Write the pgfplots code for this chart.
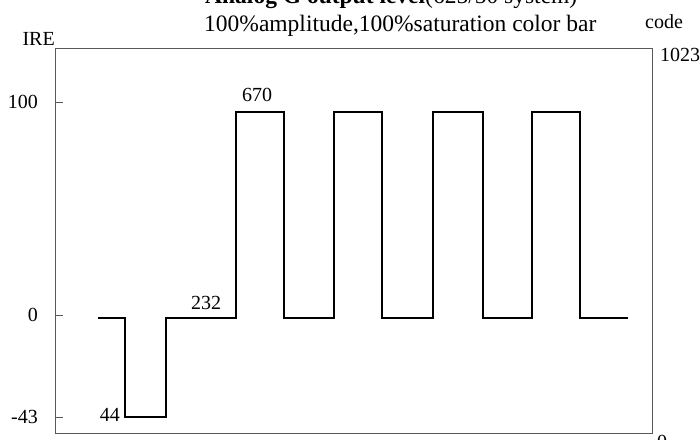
\documentclass[border=0pt]{standalone}
\usepackage{pgfplots}
\pgfplotsset{compat=1.18}
\usepackage{fontspec}
\setmainfont{Liberation Serif}
\begin{document}
\begin{tikzpicture}[x=1pt,y=1pt]
\begin{axis}[
  at={(55pt,6pt)}, anchor=south west,
  scale only axis, width=597pt, height=384.5pt,
  xmin=55, xmax=652,
  ymin=-55.4, ymax=125.1,
  axis line style={draw=black!65, line width=0.9pt},
  xtick=\empty,
  ytick={-47.9,0,100}, yticklabels={-43,0,100},
  ytick pos=left,
  tick align=inside,
  major tick length=8pt,
  tick style={draw=black!65, line width=0.9pt},
  /pgf/number format/assume math mode=true,
  yticklabel style={font=\fontsize{20}{22}\selectfont, anchor=east, inner sep=0pt, xshift=-17pt},
  clip=false,
]
\addplot[black, line width=2pt, line join=miter] coordinates {
(98,-1.5) (125,-1.5) (125,-47.9) (166,-47.9) (166,-1.5) (236,-1.5)
(236,95.4) (284,95.4) (284,-1.5) (334,-1.5) (334,95.4) (382,95.4)
(382,-1.5) (433,-1.5) (433,95.4) (483,95.4) (483,-1.5) (532,-1.5)
(532,95.4) (580,95.4) (580,-1.5) (628,-1.5)
};
\begin{scope}[every node/.style={font=\fontsize{20}{22}\selectfont, inner sep=0pt}]
\node[anchor=east] at (axis cs:120,-46.9) {44};
\node at (axis cs:206,5.6) {232};
\node at (axis cs:257,103.3) {670};
\node[anchor=base east] at (axis cs:55,126.3) {IRE};
\node[anchor=base] at (axis cs:664,134.7) {code};
\node[anchor=west] at (axis cs:660,122) {1023};
\node[anchor=west] at (axis cs:657,-59.5) {0};
\end{scope}
\node[anchor=base west, inner sep=0pt, font=\fontsize{23.5}{26}\selectfont] at (axis cs:204,132.9) {100\%amplitude,100\%saturation color bar};
\node[anchor=base west, inner sep=0pt, font=\fontsize{23.5}{26}\selectfont] at (axis cs:205,146) {\textbf{Analog G output level}(625/50 system)};
\end{axis}
\pgfresetboundingbox
\path[use as bounding box] (0,0) rectangle (700,439);
\end{tikzpicture}
\end{document}
